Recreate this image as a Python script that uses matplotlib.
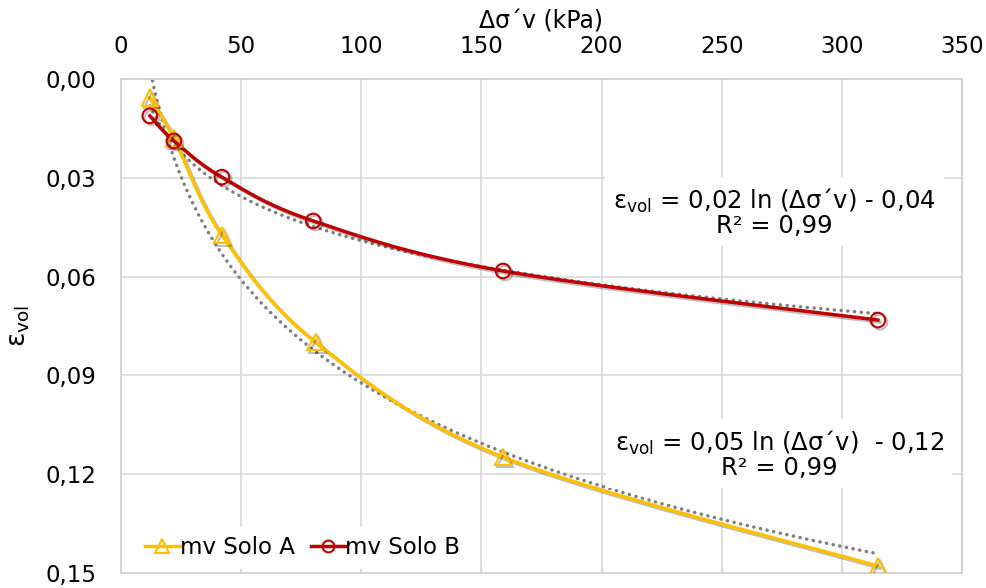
import numpy as np
import matplotlib
matplotlib.use('Agg')
import matplotlib.pyplot as plt
import matplotlib.patheffects as pe
from matplotlib.ticker import FuncFormatter, MultipleLocator

# dados
tensao_A = [12, 22, 42, 81, 159, 315]
evol_A = [0.0057, 0.0180, 0.0474, 0.0799, 0.1148, 0.1479]
tensao_B = [12, 22, 42, 80, 159, 315]
evol_B = [0.0112, 0.0188, 0.0298, 0.0431, 0.0583, 0.0732]
nomes = ['mv Solo A', 'mv Solo B']
eq_A = 'ε$_{\\mathregular{vol}}$ = 0,05 ln (Δσ´v)  - 0,12\nR² = 0,99'
eq_B = 'ε$_{\\mathregular{vol}}$ = 0,02 ln (Δσ´v) - 0,04\nR² = 0,99'

cor_A = '#FFC000'
cor_B = '#C00000'


def suaviza(x, y, n=40):
    # curva suavizada tipo Excel (Catmull-Rom)
    p = np.column_stack([x, y]).astype(float)
    p = np.vstack([p[0], p, p[-1]])
    xs, ys = [], []
    t = np.linspace(0, 1, n)
    for i in range(1, len(p) - 2):
        p0, p1, p2, p3 = p[i - 1], p[i], p[i + 1], p[i + 2]
        c1 = p1 + (p2 - p0) / 6
        c2 = p2 - (p3 - p1) / 6
        b = ((1 - t) ** 3)[:, None] * p1 + (3 * (1 - t) ** 2 * t)[:, None] * c1 \
            + (3 * (1 - t) * t ** 2)[:, None] * c2 + (t ** 3)[:, None] * p2
        xs.extend(b[:, 0]); ys.extend(b[:, 1])
    return np.array(xs), np.array(ys)


plt.rcParams['font.family'] = ['DejaVu Sans']
fig = plt.figure(figsize=(9.87, 5.88), dpi=100)
ax = fig.add_axes([121 / 987, 1 - 573 / 588, 841 / 987, 494 / 588])

sombra = [pe.SimpleLineShadow(offset=(1.5, -1.5), shadow_color='black', alpha=0.25), pe.Normal()]

for x, y, cor, mk, ms, nome in [(tensao_A, evol_A, cor_A, '^', 12, nomes[0]),
                                 (tensao_B, evol_B, cor_B, 'o', 10.5, nomes[1])]:
    xs, ys = suaviza(x, y)
    ax.plot(xs, ys, color=cor, lw=2.5, zorder=3, path_effects=sombra)
    ax.plot(x, y, ls='none', marker=mk, ms=ms, mfc='none', mec=cor, mew=1.5,
            zorder=4, path_effects=sombra)
    # linha de tendência logarítmica
    a, b = np.polyfit(np.log(x), y, 1)
    xt = np.linspace(min(x), max(x), 300)
    ax.plot(xt, a * np.log(xt) + b, color='#7F7F7F', lw=2.5,
            ls=(0, (0.05, 1.9)), dash_capstyle='round', zorder=2)
    ax.plot([], [], color=cor, lw=2.5, marker=mk, ms=ms - 2, mfc='none', mec=cor,
            mew=1.5, label=nome)

ax.set_xlim(0, 350)
ax.set_ylim(0.15, 0.0)
ax.xaxis.set_major_locator(MultipleLocator(50))
ax.yaxis.set_major_locator(MultipleLocator(0.03))
ax.yaxis.set_major_formatter(FuncFormatter(lambda v, p: f'{v:.2f}'.replace('.', ',')))
ax.grid(True, color='#D9D9D9', lw=1.2, zorder=0)
ax.set_axisbelow(True)
for s in ax.spines.values():
    s.set_color('#D0D0D0')
    s.set_linewidth(1.2)

ax.xaxis.set_label_position('top')
ax.tick_params(axis='x', top=False, bottom=True, labeltop=True, labelbottom=False,
               direction='in', length=5, color='#D0D0D0', labelsize=16.5, pad=15)
ax.tick_params(axis='y', left=False, labelsize=16.5, pad=14)
ax.set_xlabel('Δσ´v (kPa)', fontsize=17, labelpad=5)
ax.set_ylabel('ε$_{\\mathregular{vol}}$', fontsize=19, labelpad=10)

caixa = dict(facecolor='white', edgecolor='none', pad=6)
ax.text(272, 0.0405, eq_B, ha='center', va='center', multialignment='center',
        fontsize=17.5, bbox=caixa, zorder=5, linespacing=0.95)
ax.text(274, 0.1140, eq_A, ha='center', va='center', multialignment='center',
        fontsize=17.5, bbox=caixa, zorder=5, linespacing=0.95)

leg = ax.legend(loc='lower left', bbox_to_anchor=(0.018, 0.009), ncol=2, frameon=True,
                fontsize=16.5, handlelength=1.5, handletextpad=0.0, columnspacing=0.7,
                borderaxespad=0.0)
leg.get_frame().set_facecolor('white')
leg.get_frame().set_edgecolor('none')
leg.get_frame().set_alpha(1)
leg.set_zorder(6)

fig.savefig('out.png', dpi=100)
